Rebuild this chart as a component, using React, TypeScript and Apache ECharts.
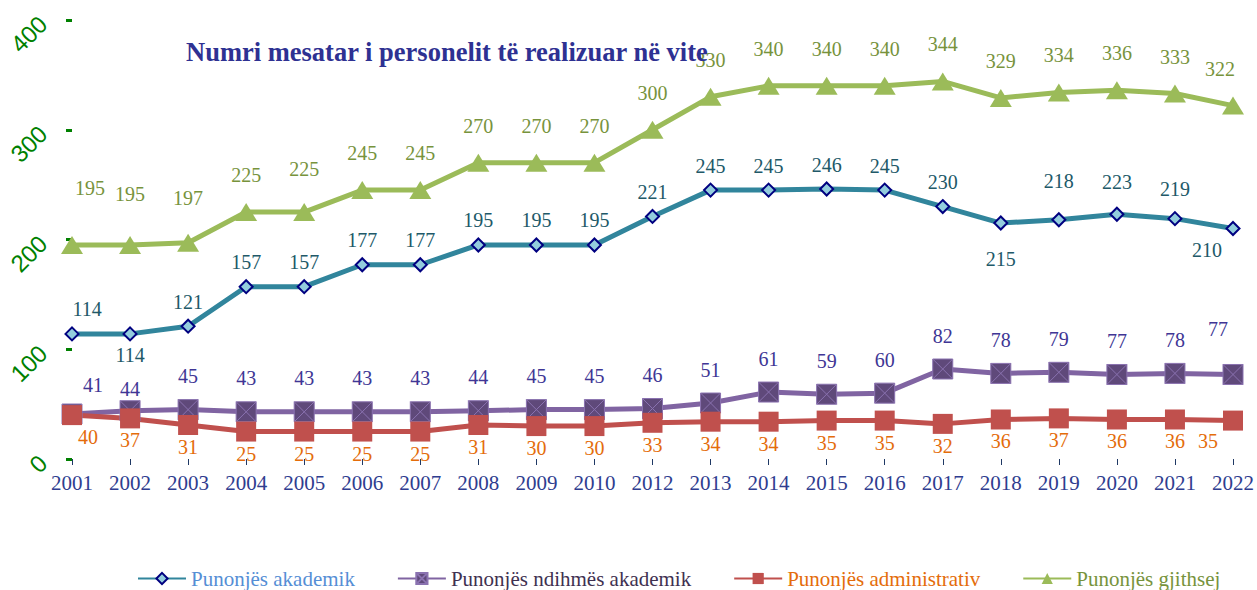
import React, { useEffect, useRef } from "react";
import * as echarts from "echarts";

const years = ["2001","2002","2003","2004","2005","2006","2007","2008","2009","2010","2012","2013","2014","2015","2016","2017","2018","2019","2020","2021","2022"];
const akademik = [114,114,121,157,157,177,177,195,195,195,221,245,245,246,245,230,215,218,223,219,210];
const ndihmes = [41,44,45,43,43,43,43,44,45,45,46,51,61,59,60,82,78,79,77,78,77];
const administrativ = [40,37,31,25,25,25,25,31,30,30,33,34,34,35,35,32,36,37,36,36,35];
const gjithsej = [195,195,197,225,225,245,245,270,270,270,300,330,340,340,340,344,329,334,336,333,322];
const yTicks = [0, 100, 200, 300, 400];

const names = ["Punonjës akademik", "Punonjës ndihmës akademik", "Punonjës administrativ", "Punonjës gjithsej"];
const SERIF = "'Liberation Serif', 'Times New Roman', serif";

function withLabels(values: number[], overrides: Record<number, any>) {
  return values.map((v, i) => (overrides[i] ? { value: v, label: overrides[i] } : v));
}

export default function App() {
  const ref = useRef<HTMLDivElement>(null);
  useEffect(() => {
    if (!ref.current) return;
    const chart = echarts.init(ref.current, undefined, { renderer: "svg" });
    const labelBase = { show: true, fontFamily: SERIF, fontSize: 20 };
    chart.setOption({
      animation: false,
      title: {
        text: "Numri mesatar i personelit të realizuar në vite",
        left: 181,
        top: 33,
        textStyle: { fontFamily: SERIF, fontWeight: "bold", fontSize: 26.5, color: "#2E3192" },
      },
      legend: {
        left: 132,
        top: 563,
        itemGap: 42,
        itemWidth: 48,
        itemHeight: 14,
        textStyle: { fontFamily: SERIF, fontSize: 21 },
        data: [
          { name: names[0], textStyle: { color: "#558ED5" } },
          { name: names[1], textStyle: { color: "#3F3151" } },
          { name: names[2], textStyle: { color: "#E46C0A" } },
          { name: names[3], textStyle: { color: "#77933C" } },
        ],
      },
      grid: { left: 72, right: 22, top: 20, bottom: 131, containLabel: false },
      xAxis: {
        type: "category",
        data: years,
        boundaryGap: false,
        axisLine: {
          lineStyle: { color: "#4F81BD", width: 3, shadowColor: "rgba(40,80,160,0.7)", shadowBlur: 8, shadowOffsetY: 5 },
        },
        axisTick: { show: true, length: 6, lineStyle: { color: "#1F3864" } },
        axisLabel: { color: "#2F3D8F", fontFamily: SERIF, fontSize: 21, margin: 13 },
        splitLine: { show: false },
      },
      yAxis: [
        {
          type: "value",
          min: yTicks[0],
          max: yTicks[yTicks.length - 1],
          interval: 100,
          axisLine: { show: true, lineStyle: { color: "#008000", width: 3, shadowColor: "rgba(100,130,180,0.5)", shadowBlur: 6, shadowOffsetX: 4 } },
          axisTick: { show: true, length: 6, lineStyle: { color: "#008000", width: 3 } },
          axisLabel: { color: "#008000", fontFamily: "'Liberation Sans', Arial, sans-serif", fontSize: 24, rotate: 45, margin: 29 },
          splitLine: { show: false },
        },
        {
          type: "value",
          position: "right",
          min: 0,
          max: 400,
          interval: 100,
          axisLine: { show: true, lineStyle: { color: "#DCE6F2", width: 2, shadowColor: "rgba(150,170,200,0.5)", shadowBlur: 4, shadowOffsetX: 2 } },
          axisTick: { show: false },
          axisLabel: { show: false },
          splitLine: { show: false },
        },
      ],
      series: [
        {
          name: names[3],
          type: "line",
          data: withLabels(gjithsej, {
            0: { offset: [18, -20] },
            20: { offset: [-13, 0] },
            1: { offset: [0, -14] },
            2: { offset: [0, -8] },
            5: { offset: [0, 0] },
            4: { offset: [0, -6] },
          }),
          symbol: "triangle",
          symbolSize: [22, 18],
          lineStyle: { color: "#9BBB59", width: 5 },
          itemStyle: { color: "#9BBB59" },
          label: { ...labelBase, position: "top", distance: 18, color: "#77933C" },
        },
        {
          name: names[0],
          type: "line",
          data: withLabels(akademik, {
            0: { offset: [15, 0] },
            1: { position: "bottom", distance: 4 },
            16: { position: "bottom", distance: 18 },
            17: { offset: [0, -14] },
            18: { offset: [0, -8] },
            19: { offset: [0, -5] },
            20: { position: "bottom", distance: 4, offset: [-26, 0] },
          }),
          symbol: "diamond",
          symbolSize: 13,
          lineStyle: { color: "#31859C", width: 5 },
          itemStyle: { color: "#93CDDD", borderColor: "#000080", borderWidth: 2 },
          label: { ...labelBase, position: "top", distance: 7, color: "#215968" },
        },
        {
          name: names[1],
          type: "line",
          data: withLabels(ndihmes, {
            0: { offset: [21, 4] },
            1: { offset: [0, 12] },
            20: { offset: [-15, -12] },
          }),
          symbol: "path://M0,0L10,0L10,10L0,10Z M0,0L10,10 M10,0L0,10",
          symbolSize: 20,
          lineStyle: { color: "#8064A2", width: 5 },
          itemStyle: { color: "#5F497A", borderColor: "#8A72B0", borderWidth: 1 },
          label: { ...labelBase, position: "top", distance: 13, color: "#403695" },
        },
        {
          name: names[2],
          type: "line",
          data: withLabels(administrativ, {
            0: { offset: [16, 0] },
            20: { offset: [-25, -2] },
          }),
          symbol: "rect",
          symbolSize: 20,
          lineStyle: { color: "#C0504D", width: 5 },
          itemStyle: { color: "#C0504D" },
          label: { ...labelBase, position: "bottom", distance: 2, color: "#E46C0A" },
        },
      ],
    });
    return () => chart.dispose();
  }, []);
  return <div ref={ref} style={{ position: "fixed", left: 0, top: 0, width: 1257, height: 590, background: "#fff" }} />;
}
